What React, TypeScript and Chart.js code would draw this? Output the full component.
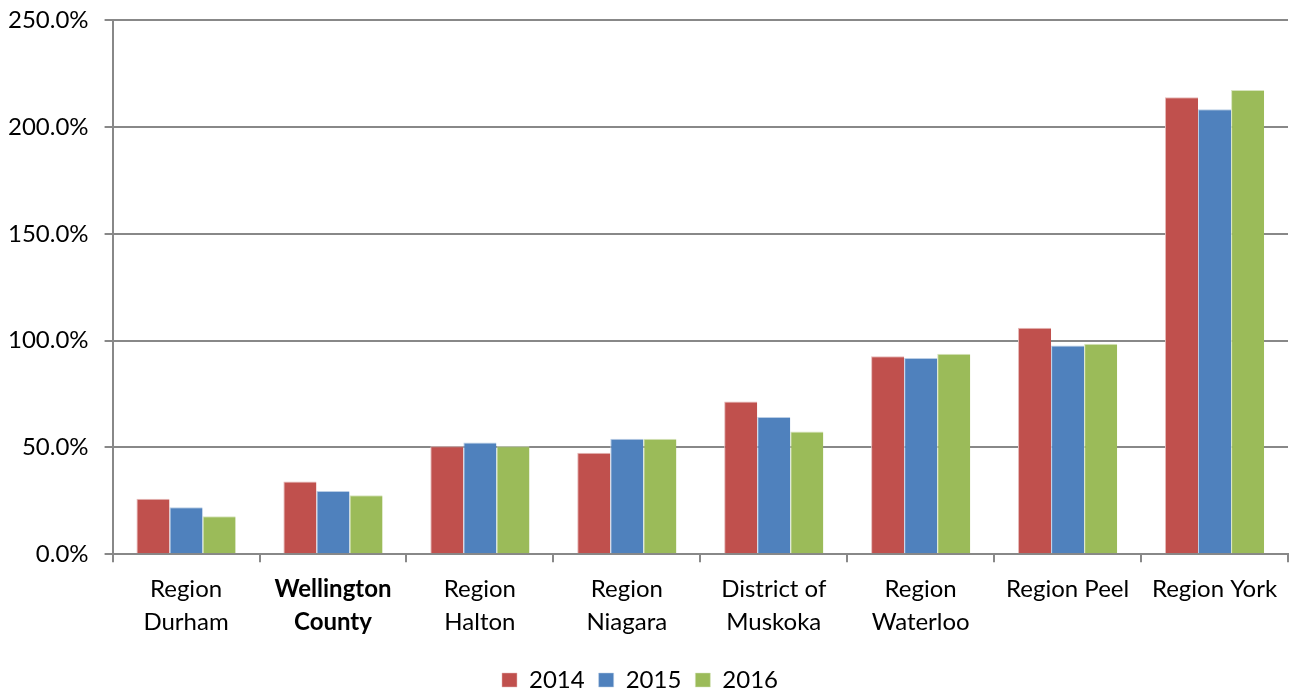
import React, { useEffect, useRef } from "react";
import { Chart, registerables } from "chart.js";

Chart.register(...registerables);

const categories: (string | string[])[] = [
  ["Region", "Durham"],
  ["Wellington", "County"],
  ["Region", "Halton"],
  ["Region", "Niagara"],
  ["District of", "Muskoka"],
  ["Region", "Waterloo"],
  "Region Peel",
  "Region York",
];
const seriesNames = ["2014", "2015", "2016"];
const values2014 = [26.0, 34.1, 50.5, 47.5, 71.5, 92.7, 106.1, 214.0];
const values2015 = [22.0, 29.6, 52.3, 54.1, 64.3, 91.9, 97.8, 208.4];
const values2016 = [17.8, 27.6, 50.6, 54.1, 57.5, 93.9, 98.6, 217.4];
const colors = ["#C0504D", "#4F81BD", "#9BBB59"];
const borderColors = ["#E6B9B8", "#B9CDE5", "#D7E4BD"];
const boldIndex = 1;

const FONT = "Lato, 'Open Sans', sans-serif";

export default function App() {
  const ref = useRef<HTMLCanvasElement | null>(null);
  useEffect(() => {
    if (!ref.current) return;
    const all = [values2014, values2015, values2016];
    const chart = new Chart(ref.current, {
      type: "bar",
      data: {
        labels: categories,
        datasets: all.map((v, i) => ({
          label: seriesNames[i],
          data: v,
          backgroundColor: colors[i],
          borderColor: borderColors[i],
          borderWidth: { top: 1, left: 1, right: 0, bottom: 0 },
          barPercentage: 1,
          categoryPercentage: 0.675,
        })),
      },
      options: {
        animation: false,
        responsive: false,
        maintainAspectRatio: false,
        layout: { padding: { top: 0, right: 6, left: -8, bottom: -12 } },
        plugins: {
          tooltip: { enabled: false },
          legend: {
            position: "bottom",
            title: {
              display: true,
              text: " ",
              padding: 0,
              font: { family: FONT, size: 5, lineHeight: 1 },
            },
            labels: {
              boxWidth: 15,
              boxHeight: 14,
              padding: 14,
              color: "#000",
              font: { family: FONT, size: 24 },
            },
          },
        },
        scales: {
          x: {
            border: { color: "#888888", width: 2 },
            grid: {
              drawOnChartArea: false,
              drawTicks: true,
              tickLength: 8,
              color: "#888888",
              lineWidth: 2,
              offset: true,
            },
            ticks: {
              color: "#000",
              maxRotation: 0,
              autoSkip: false,
              padding: 11,
              font: (ctx: any) => ({
                family: FONT,
                size: 24,
                lineHeight: 1.35,
                weight: ctx.index === boldIndex ? "bold" : "normal",
              }),
            },
          },
          y: {
            min: 0,
            max: 250,
            border: { color: "#888888", width: 2 },
            grid: {
              color: "#888888",
              lineWidth: 2,
              drawTicks: true,
              tickLength: 8,
            },
            ticks: {
              stepSize: 50,
              color: "#000",
              padding: 16,
              font: { family: FONT, size: 24 },
              callback: (v: any) => Number(v).toFixed(1) + "%",
            },
          },
        },
      },
    });
    return () => chart.destroy();
  }, []);
  return (
    <div style={{ position: "fixed", left: 0, top: 0, width: 1294, height: 690, overflow: "hidden", background: "#fff" }}>
      <canvas
        ref={ref}
        width={1294}
        height={700}
        style={{ position: "absolute", left: 0, top: -10, width: 1294, height: 700 }}
      />
    </div>
  );
}
